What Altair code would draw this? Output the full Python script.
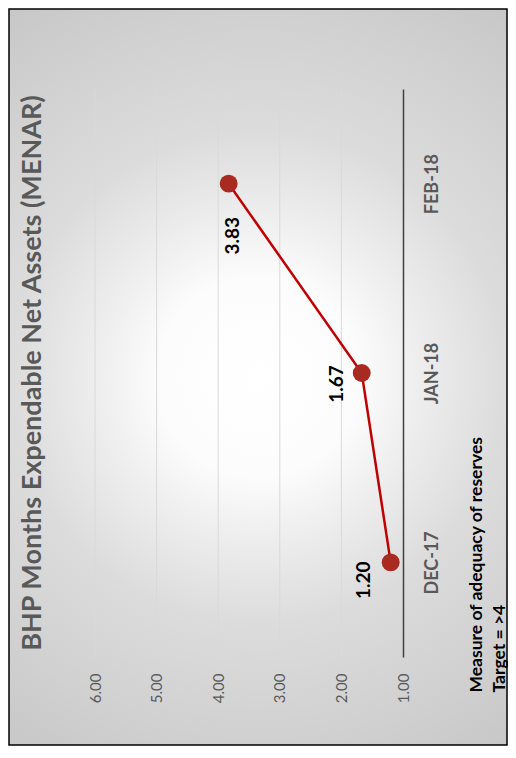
import altair as alt
import pandas as pd

# ---- data ----
months = ["DEC-17", "JAN-18", "FEB-18"]
menar = [1.20, 1.67, 3.83]
value_ticks = [1, 2, 3, 4, 5, 6]
title_text = "BHP Months Expendable Net Assets (MENAR)"
note_lines = ["Measure of adequacy of reserves", "Target = >4"]

df = pd.DataFrame({"month": months, "menar": menar})
grid_df = pd.DataFrame({"menar": value_ticks[1:]})

# ---- layout / style ----
W, H = 308, 568
PAD = {"left": 87, "top": 81, "right": 105, "bottom": 89}
FONT = "Lato"
GREY = "#595959"
# label offsets (dx, dy) in the rotated text frame
label_offsets = {"DEC-17": (-18, -27), "JAN-18": (-11, -25), "FEB-18": (-52, 4)}

x_scale = alt.Scale(domain=[1, 6], reverse=True, nice=False, zero=False)
x_enc = alt.X(
    "menar:Q",
    scale=x_scale,
    axis=alt.Axis(
        values=value_ticks, format=".2f", orient="bottom", domain=False,
        ticks=False, grid=False, zindex=1,
        labelAngle=270, labelAlign="right", labelBaseline="middle",
        labelPadding=16, labelColor=GREY, labelFont=FONT, labelFontSize=15,
        title=None,
    ),
)
y_enc = alt.Y(
    "month:N",
    scale=alt.Scale(type="point", padding=0.5, domain=list(reversed(months))),
    axis=alt.Axis(
        orient="right", domain=True, domainColor="#404040", domainWidth=1.5,
        ticks=False, tickSize=0, grid=False, zindex=1,
        labelAngle=270, labelAlign="center", labelBaseline="middle",
        labelPadding=29, labelFont=FONT, labelFontSize=18,
        labelFontWeight="bold", labelColor=GREY,
        title=note_lines, titleAngle=270, titleAlign="left",
        titleBaseline="top", titleX=64, titleY=603, titleFont=FONT,
        titleFontSize=17.5, titleFontWeight="bold", titleColor="black",
        titleLineHeight=23,
    ),
)

bg = alt.Chart(alt.Data(values=[{"a": 1}])).mark_rect(
    fill=alt.RadialGradient(
        gradient="radial",
        stops=[
            alt.GradientStop(color="#ffffff", offset=0),
            alt.GradientStop(color="#fcfcfc", offset=0.22),
            alt.GradientStop(color="#f0f0f0", offset=0.33),
            alt.GradientStop(color="#dcdcdc", offset=0.54),
            alt.GradientStop(color="#d0d0d0", offset=0.80),
            alt.GradientStop(color="#c6c6c6", offset=1),
        ],
        x1=0.5, y1=0.5, r1=0, x2=0.5, y2=0.5, r2=0.62,
    ),
    stroke="black",
    strokeWidth=1.5,
).encode(
    x=alt.value(-86), x2=alt.value(W + 104),
    y=alt.value(-80), y2=alt.value(H + 88),
)

grid = alt.Chart(grid_df).mark_rule(color="#d9d9d9", strokeWidth=1).encode(x=x_enc)

base = alt.Chart(df)
line = base.mark_line(color="#c00000", strokeWidth=2.5).encode(x=x_enc, y=y_enc)
points = base.mark_circle(size=320, color="#a92a20", opacity=1).encode(x=x_enc, y=y_enc)

labels = []
for m in months:
    dx, dy = label_offsets[m]
    labels.append(
        base.transform_filter(alt.datum.month == m)
        .mark_text(
            angle=270, dx=dx, dy=dy, font=FONT, fontSize=19, fontWeight="bold",
            color="black", align="center", baseline="middle",
        )
        .encode(x=x_enc, y=y_enc, text=alt.Text("menar:Q", format=".2f"))
    )

chart = (
    alt.layer(bg, grid, line, points, *labels)
    .properties(
        width=W,
        height=H,
        padding=PAD,
        autosize=alt.AutoSizeParams(type="none"),
        background="white",
        title=alt.TitleParams(
            title_text, orient="left", anchor="middle", frame="group",
            angle=270, baseline="middle", offset=-52,
            font=FONT, fontSize=27, fontWeight="bold", color=GREY,
        ),
    )
    .configure_view(strokeWidth=0)
)

chart.save("out.html", embed_options={"renderer": "svg", "actions": False})
